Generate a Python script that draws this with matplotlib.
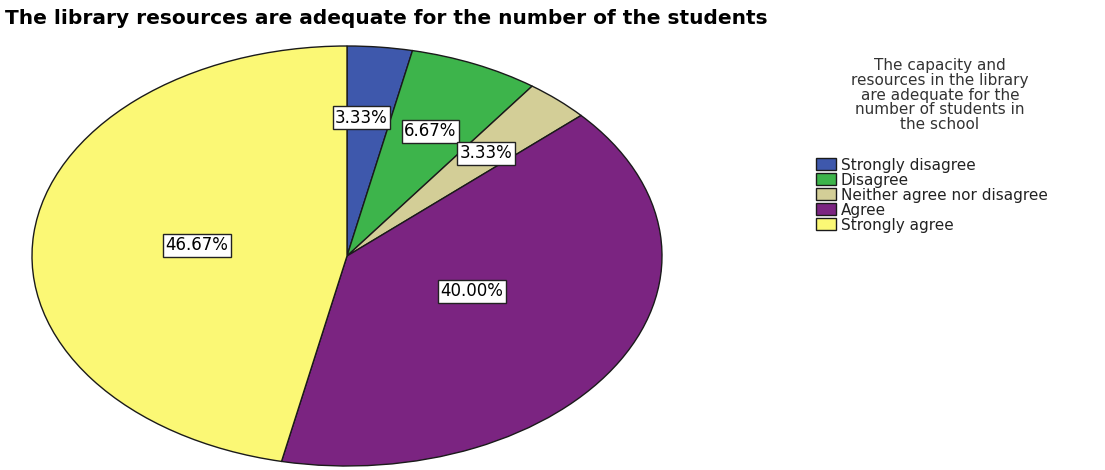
import numpy as np
import matplotlib.pyplot as plt

categories = ["Strongly disagree", "Disagree", "Neither agree nor disagree", "Agree", "Strongly agree"]
counts = [1, 2, 1, 12, 14]
colors = ["#3E58AC", "#3DB44B", "#D3CE97", "#7B2481", "#FBF875"]
# label placement: radius (fraction of pie) and angle shift in degrees
label_r = [0.66, 0.65, 0.66, 0.43, 0.48]
label_shift = [2, 0, 0, 7, 0]

legend_title = "The capacity and\nresources in the library\nare adequate for the\nnumber of students in\nthe school"

plt.rcParams['font.family'] = ['DejaVu Sans']

fig = plt.figure(figsize=(11.05, 4.70), dpi=100)
W, H = 1105, 470
# axes spans the (stretched) ellipse of the pie
ax = fig.add_axes([32/W, 1-466/H, 630/W, 420/H])
wedges, _ = ax.pie(counts, colors=colors, startangle=90, counterclock=False,
                   wedgeprops=dict(edgecolor="#1a1a1a", linewidth=1.0))
ax.set_aspect('auto')
ax.set_xlim(-1, 1)
ax.set_ylim(-1, 1)

total = sum(counts)
for w, c, r, s in zip(wedges, counts, label_r, label_shift):
    ang = np.deg2rad((w.theta1 + w.theta2) / 2 + s)
    ax.text(r*np.cos(ang), r*np.sin(ang), "%.2f%%" % (100.0*c/total),
            ha="center", va="center", fontsize=12,
            bbox=dict(boxstyle="square,pad=0.15", fc="white", ec="#222222", lw=1.0))

fig.text(5/W, 1-18/H, "The library resources are adequate for the number of the students",
         fontsize=14.5, fontweight="bold", va="center", ha="left")

# legend title drawn as its own text block, entries below it
fig.text(940/W, 1-58/H, legend_title, ha="center", va="top", multialignment="center",
         fontsize=11, color="#333333", linespacing=0.98)

leg = fig.legend(wedges, categories, loc="upper left", bbox_to_anchor=(808/W, 1-150/H),
                 fontsize=11, frameon=False, handlelength=1.3,
                 handleheight=0.8, handletextpad=0.35, labelspacing=0.0, borderpad=0)
for t in leg.get_texts():
    t.set_color("#222222")

fig.savefig("out.png", dpi=100)
